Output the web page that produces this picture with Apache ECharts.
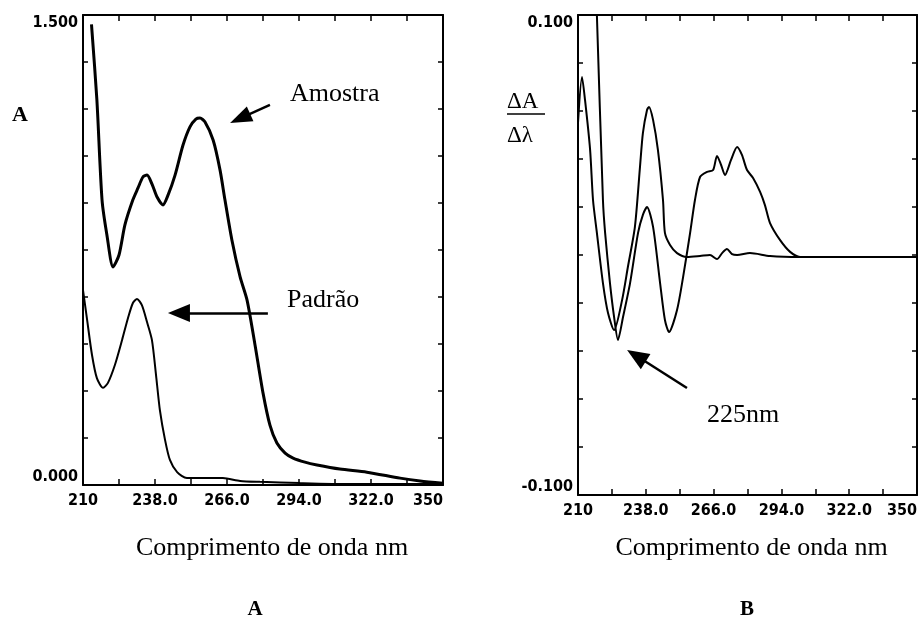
<!DOCTYPE html>
<html><head><meta charset="utf-8">
<script src="https://cdn.jsdelivr.net/npm/echarts@6/dist/echarts.min.js"></script>
<style>html,body{margin:0;padding:0;background:#fff}#c{width:922px;height:620px}</style>
</head><body><div id="c"></div>
<script>
// ---- data ----
const xTickValues = [210, 238, 266, 294, 322, 350];
const xTickLabels = ['210', '238.0', '266.0', '294.0', '322.0', '350'];
const absTickLabels = ['0.000', '1.500'];
const derivTickLabels = ['-0.100', '0.100'];

// Panel A: absorbance spectra
const amostraWl  = [213.3,215.4,217.4,219.3,221.7,224.0,226.3,229.4,231.4,233.3,234.9,236.8,238.8,241.1,243.1,245.8,248.9,251.6,253.9,255.5,257.4,260.6,263.3,265.2,267.9,271.1,273.8,276.9,280.0,282.7,285.4,288.6,291.7,296.3,301.0,309.9,320.4,333.3,341.1,350.0];
const amostraAbs = [1.470,1.229,0.910,0.798,0.696,0.734,0.830,0.910,0.948,0.983,0.989,0.961,0.919,0.894,0.926,0.989,1.085,1.143,1.168,1.171,1.159,1.101,1.005,0.910,0.782,0.664,0.590,0.447,0.294,0.191,0.134,0.102,0.086,0.073,0.064,0.051,0.041,0.022,0.013,0.006];
const padraoWl   = [210.0,211.6,213.5,215.4,217.8,219.7,222.4,225.2,227.5,229.4,231.0,232.9,234.9,236.8,238.4,239.9,241.9,243.8,246.6,250.4,264.4,271.1,278.8,294.4,313.8,350.0];
const padraoAbs  = [0.622,0.527,0.415,0.341,0.310,0.326,0.383,0.463,0.533,0.581,0.594,0.574,0.520,0.463,0.351,0.239,0.144,0.080,0.041,0.022,0.022,0.013,0.010,0.006,0.003,0.003];

// Panel B: first-derivative spectra
const dAmostraWl  = [217.2,217.8,220.3,221.2,223.2,224.9,226.5,228.6,231.5,234.8,236.8,238.5,241.0,243.9,245.9,247.6,250.9,253.4,256.3,258.3,260.4,263.3,265.8,267.4,269.1,270.7,273.2,275.7,277.7,279.8,282.3,285.2,287.2,289.3,293.4,297.6,301.7,350.0];
const dAmostraVal = [0.119,0.100,0.0229,0.0092,-0.0117,-0.0258,-0.0354,-0.0258,-0.0117,0.0092,0.0167,0.0200,0.0117,-0.0117,-0.0271,-0.0321,-0.0229,-0.0092,0.0092,0.0229,0.0325,0.0346,0.0354,0.0413,0.0375,0.0333,0.0396,0.0450,0.0417,0.0354,0.0321,0.0263,0.0208,0.0133,0.0063,0.0013,-0.0008,-0.0008];
const dPadraoWl   = [210.0,211.65,212.9,215.0,216.2,217.8,220.3,222.4,224.9,228.2,230.6,233.5,235.6,236.8,238.5,239.3,241.0,243.0,245.1,245.9,248.0,250.9,255.0,260.4,264.5,267.4,269.5,271.5,273.6,275.7,281.0,289.3,301.7,350.0];
const dPadraoVal  = [0.055,0.0742,0.0646,0.0438,0.0229,0.0092,-0.0117,-0.0242,-0.0313,-0.0188,-0.0050,0.0117,0.0367,0.0508,0.0604,0.0617,0.0563,0.0438,0.0229,0.0092,0.0042,0.0008,-0.0008,-0.0004,0.0000,-0.0017,0.0008,0.0025,0.0004,0.0000,0.0008,-0.0004,-0.0008,-0.0008];

// annotation arrows (data coordinates: [wavelength, value]; second point = arrow-head centre)
const amostraArrow = [[282.7, 1.213], [271.1, 1.170]];
const padraoArrow  = [[281.9, 0.549], [247.3, 0.549]];
const nm225Arrow   = [[255.0, -0.0554], [234.1, -0.0420]];

// ---- helpers ----
const zip = (a, b) => a.map((v, i) => [v, b[i]]);
const SERIF = "'Liberation Serif','Times New Roman',serif";
const TICKFONT = "'DejaVu Sans Condensed','Liberation Sans Narrow',sans-serif";
const BLACK = '#000';

function xAxes(gridIndex, nameGap, namePad) {
  const base = {
    gridIndex, type: 'value', min: 210, max: 350, interval: 14,
    axisLine: { show: true, onZero: false, lineStyle: { color: BLACK, width: 2 } },
    axisTick: { show: true, inside: true, length: 6, lineStyle: { color: BLACK, width: 1.5 } },
    splitLine: { show: false }
  };
  return [
    Object.assign({}, base, {
      position: 'bottom',
      name: 'Comprimento de onda nm', nameLocation: 'middle', nameGap,
      nameTextStyle: { fontFamily: SERIF, fontSize: 26, color: BLACK, padding: namePad },
      axisLabel: {
        show: true, interval: 0, margin: 8, color: BLACK,
        fontFamily: TICKFONT, fontWeight: 'bold', fontSize: 16,
        alignMaxLabel: 'right',
        formatter: v => { const i = xTickValues.findIndex(t => Math.abs(t - v) < 1e-6); return i >= 0 ? xTickLabels[i] : ''; }
      }
    }),
    Object.assign({}, base, { position: 'top', axisLabel: { show: false } })
  ];
}

function yAxes(gridIndex, min, max, interval, labels) {
  const base = {
    gridIndex, type: 'value', min, max, interval,
    axisLine: { show: true, onZero: false, lineStyle: { color: BLACK, width: 2 } },
    axisTick: { show: true, inside: true, length: 5, lineStyle: { color: BLACK, width: 1.5 } },
    splitLine: { show: false }
  };
  return [
    Object.assign({}, base, {
      position: 'left',
      axisLabel: {
        show: true, margin: 5, color: BLACK,
        fontFamily: TICKFONT, fontWeight: 'bold', fontSize: 16,
        verticalAlignMaxLabel: 'top', verticalAlignMinLabel: 'bottom',
        formatter: v => Math.abs(v - min) < 1e-9 ? labels[0] : (Math.abs(v - max) < 1e-9 ? labels[1] : '')
      }
    }),
    Object.assign({}, base, { position: 'right', axisLabel: { show: false } })
  ];
}

function arrow(pts, size) {
  return {
    silent: true, animation: false,
    symbol: ['none', 'triangle'], symbolSize: size,
    label: { show: false },
    lineStyle: { color: BLACK, width: 2.5, type: 'solid' },
    data: [[{ coord: pts[0] }, { coord: pts[1] }]]
  };
}

const lineBase = { type: 'line', showSymbol: false, smooth: 0.25, animation: false, clip: true };

const option = {
  backgroundColor: '#fff',
  animation: false,
  grid: [
    { left: 83, top: 15, width: 360, height: 470 },
    { left: 578, top: 15, width: 339, height: 480 }
  ],
  xAxis: [].concat(xAxes(0, 50, [0, 0, 0, 18]), xAxes(1, 40, [0, 0, 0, 8])),
  yAxis: [].concat(yAxes(0, 0, 1.5, 0.15, absTickLabels), yAxes(1, -0.1, 0.1, 0.02, derivTickLabels)),
  series: [
    Object.assign({}, lineBase, { name: 'Amostra', xAxisIndex: 0, yAxisIndex: 0,
      data: zip(amostraWl, amostraAbs), lineStyle: { color: BLACK, width: 3 },
      markLine: arrow(amostraArrow, [16, 22]) }),
    Object.assign({}, lineBase, { name: 'Padrão', xAxisIndex: 0, yAxisIndex: 0,
      data: zip(padraoWl, padraoAbs), lineStyle: { color: BLACK, width: 2 },
      markLine: arrow(padraoArrow, [18, 22]) }),
    Object.assign({}, lineBase, { name: 'dAmostra', xAxisIndex: 2, yAxisIndex: 2,
      data: zip(dAmostraWl, dAmostraVal), lineStyle: { color: BLACK, width: 2 },
      markLine: arrow(nm225Arrow, [18, 22]) }),
    Object.assign({}, lineBase, { name: 'dPadrao', xAxisIndex: 2, yAxisIndex: 2,
      data: zip(dPadraoWl, dPadraoVal), lineStyle: { color: BLACK, width: 2 } })
  ],
  graphic: [
    { type: 'text', x: 12, y: 115, style: { text: 'A', font: 'bold 22px ' + SERIF, fill: BLACK, textAlign: 'left', textVerticalAlign: 'middle' } },
    { type: 'text', x: 290, y: 94, style: { text: 'Amostra', font: '26px ' + SERIF, fill: BLACK, textAlign: 'left', textVerticalAlign: 'middle' } },
    { type: 'text', x: 287, y: 300, style: { text: 'Padrão', font: '26px ' + SERIF, fill: BLACK, textAlign: 'left', textVerticalAlign: 'middle' } },
    { type: 'text', x: 707, y: 415, style: { text: '225nm', font: '26px ' + SERIF, fill: BLACK, textAlign: 'left', textVerticalAlign: 'middle' } },
    { type: 'text', x: 507, y: 102, style: { text: 'ΔA', font: '23px ' + SERIF, fill: BLACK, textAlign: 'left', textVerticalAlign: 'middle' } },
    { type: 'line', shape: { x1: 507, y1: 114, x2: 545, y2: 114 }, style: { stroke: BLACK, lineWidth: 1.5 } },
    { type: 'text', x: 507, y: 136, style: { text: 'Δλ', font: '23px ' + SERIF, fill: BLACK, textAlign: 'left', textVerticalAlign: 'middle' } },
    { type: 'text', x: 255, y: 610, style: { text: 'A', font: 'bold 21px ' + SERIF, fill: BLACK, textAlign: 'center', textVerticalAlign: 'middle' } },
    { type: 'text', x: 747, y: 610, style: { text: 'B', font: 'bold 21px ' + SERIF, fill: BLACK, textAlign: 'center', textVerticalAlign: 'middle' } }
  ]
};

const chart = echarts.init(document.getElementById('c'), null, { renderer: 'canvas' });
chart.setOption(option);
</script>
</body></html>
